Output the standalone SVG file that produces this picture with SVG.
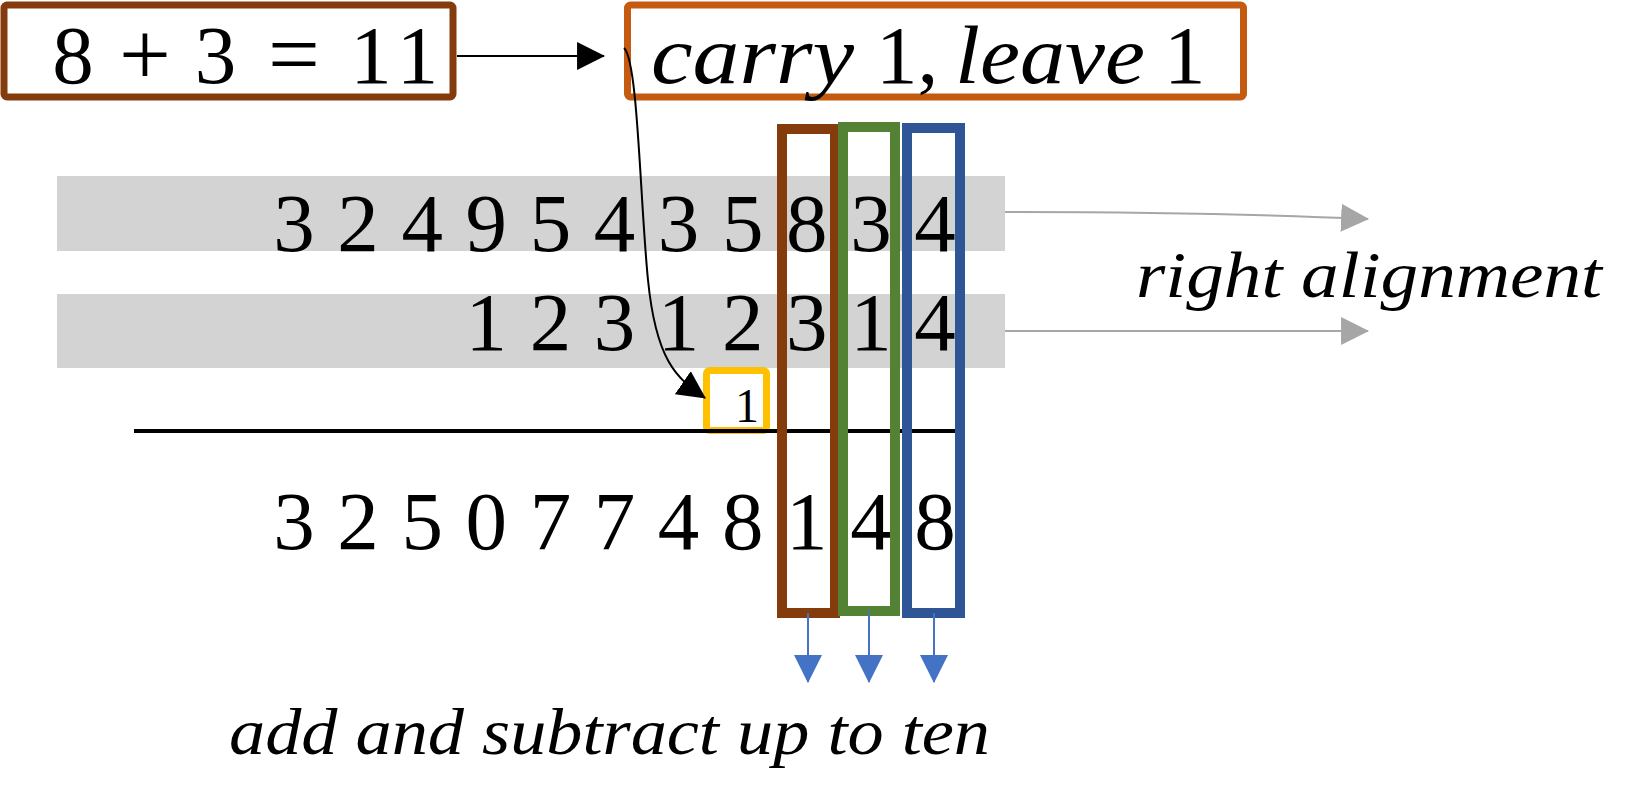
<svg xmlns="http://www.w3.org/2000/svg" width="1638" height="789" viewBox="0 0 1638 789">
<style>
.num{font-family:"Liberation Serif","Times New Roman",serif;font-size:83px;fill:#000;text-anchor:middle}
.big{font-family:"Liberation Serif","Times New Roman",serif;font-size:83px;fill:#000}
.it{font-family:"Liberation Serif","Times New Roman",serif;font-style:italic;fill:#000}
.op{font-size:92px}
.band{fill:#D3D3D3}
.col{fill:none;stroke-width:10}
.conn{fill:none;stroke-width:2}
</style>
<defs>
<marker id="ahBlack" markerUnits="userSpaceOnUse" markerWidth="28" markerHeight="28" viewBox="0 0 26 26" refX="25" refY="13" orient="auto"><path d="M0,0 L26,13 L0,26 z" fill="#000"/></marker>
<marker id="ahGray" markerUnits="userSpaceOnUse" markerWidth="28" markerHeight="28" viewBox="0 0 26 26" refX="25" refY="13" orient="auto"><path d="M0,0 L26,13 L0,26 z" fill="#A6A6A6"/></marker>
<marker id="ahBlue" markerUnits="userSpaceOnUse" markerWidth="28" markerHeight="28" viewBox="0 0 26 26" refX="25" refY="13" orient="auto"><path d="M0,0 L26,13 L0,26 z" fill="#4472C4"/></marker>
</defs>
<rect width="1638" height="789" fill="#fff"/>

<g id="row1">
<rect class="band" x="57" y="176" width="948" height="75"/>
<text class="num" y="251" x="294 326 358.1 390.1 422.2 454.2 486.3 518.3 550.4 582.4 614.5 646.5 678.6 710.6 742.7 774.7 806.8 838.8 870.9 903 935">3 2 4 9 5 4 3 5 8 3 4</text>
</g>
<g id="row2">
<rect class="band" x="57" y="294" width="948" height="74"/>
<text class="num" y="350" x="486.3 518.4 550.4 582.5 614.5 646.6 678.6 710.7 742.7 774.8 806.8 838.9 870.9 903 935">1 2 3 1 2 3 1 4</text>
</g>
<g id="carry-digit">
<rect x="706.5" y="370.5" width="60" height="60" rx="3" fill="#fff" stroke="#FFC000" stroke-width="7"/>
<text x="747" y="422" font-family="Liberation Serif, Times New Roman, serif" font-size="48" text-anchor="middle">1</text>
</g>
<g id="sum-line">
<line x1="134" y1="431" x2="956" y2="431" stroke="#000" stroke-width="4"/>
</g>
<g id="result">
<text class="num" y="549" x="294 326 358.1 390.1 422.2 454.2 486.3 518.3 550.4 582.4 614.5 646.5 678.6 710.6 742.7 774.7 806.8 838.8 870.9 903 935">3 2 5 0 7 7 4 8 1 4 8</text>
</g>
<g id="col-hundreds">
<rect class="col" x="782" y="129" width="53" height="484" stroke="#843C0C"/>
</g>
<g id="col-tens">
<rect class="col" x="843" y="127" width="52" height="484" stroke="#548235"/>
</g>
<g id="col-ones">
<rect class="col" x="907" y="128" width="53" height="485" stroke="#2F5597"/>
</g>

<g id="equation">
<rect x="4" y="5" width="449" height="92" rx="3" fill="#fff" stroke="#843C0C" stroke-width="7"/>
<text class="big" y="83" text-anchor="middle"><tspan x="73">8</tspan><tspan x="109"> </tspan><tspan class="op" x="145" y="85">+</tspan><tspan x="180" y="83"> </tspan><tspan x="215.5">3</tspan><tspan x="255"> </tspan><tspan class="op" x="294" y="85">=</tspan><tspan x="332" y="83"> </tspan><tspan x="371 417.5">11</tspan></text>
</g>
<g id="carry-rule">
<rect x="627.5" y="5" width="616" height="92" rx="3" fill="#fff" stroke="#C55A11" stroke-width="7"/>
<text class="big" y="83"><tspan class="it" x="651" textLength="203" lengthAdjust="spacingAndGlyphs">carry</tspan> <tspan x="876">1,</tspan> <tspan class="it" x="955" textLength="190" lengthAdjust="spacingAndGlyphs">leave</tspan> <tspan x="1164">1</tspan></text>
</g>
<g id="label-right">
<text class="it" x="1136" y="297" font-size="65" textLength="466" lengthAdjust="spacingAndGlyphs">right alignment</text>
</g>
<g id="label-bottom">
<text class="it" x="229" y="754" font-size="65" textLength="761" lengthAdjust="spacingAndGlyphs">add and subtract up to ten</text>
</g>

<g id="connectors">
<path class="conn" d="M457,56 L604,56" stroke="#000" marker-end="url(#ahBlack)"/>
<path class="conn" d="M624,48 C638,60 640,200 648,280 C656,360 676,378 705,398" stroke="#000" marker-end="url(#ahBlack)"/>
<path class="conn" d="M1005,212 C1150,212 1260,214 1368,219" stroke="#A6A6A6" marker-end="url(#ahGray)"/>
<path class="conn" d="M1005,331 L1368,331" stroke="#A6A6A6" marker-end="url(#ahGray)"/>
<path class="conn" d="M808,613 L808,682" stroke="#4472C4" marker-end="url(#ahBlue)"/>
<path class="conn" d="M869,611 L869,682" stroke="#4472C4" marker-end="url(#ahBlue)"/>
<path class="conn" d="M934,613 L934,682" stroke="#4472C4" marker-end="url(#ahBlue)"/>
</g>
</svg>
